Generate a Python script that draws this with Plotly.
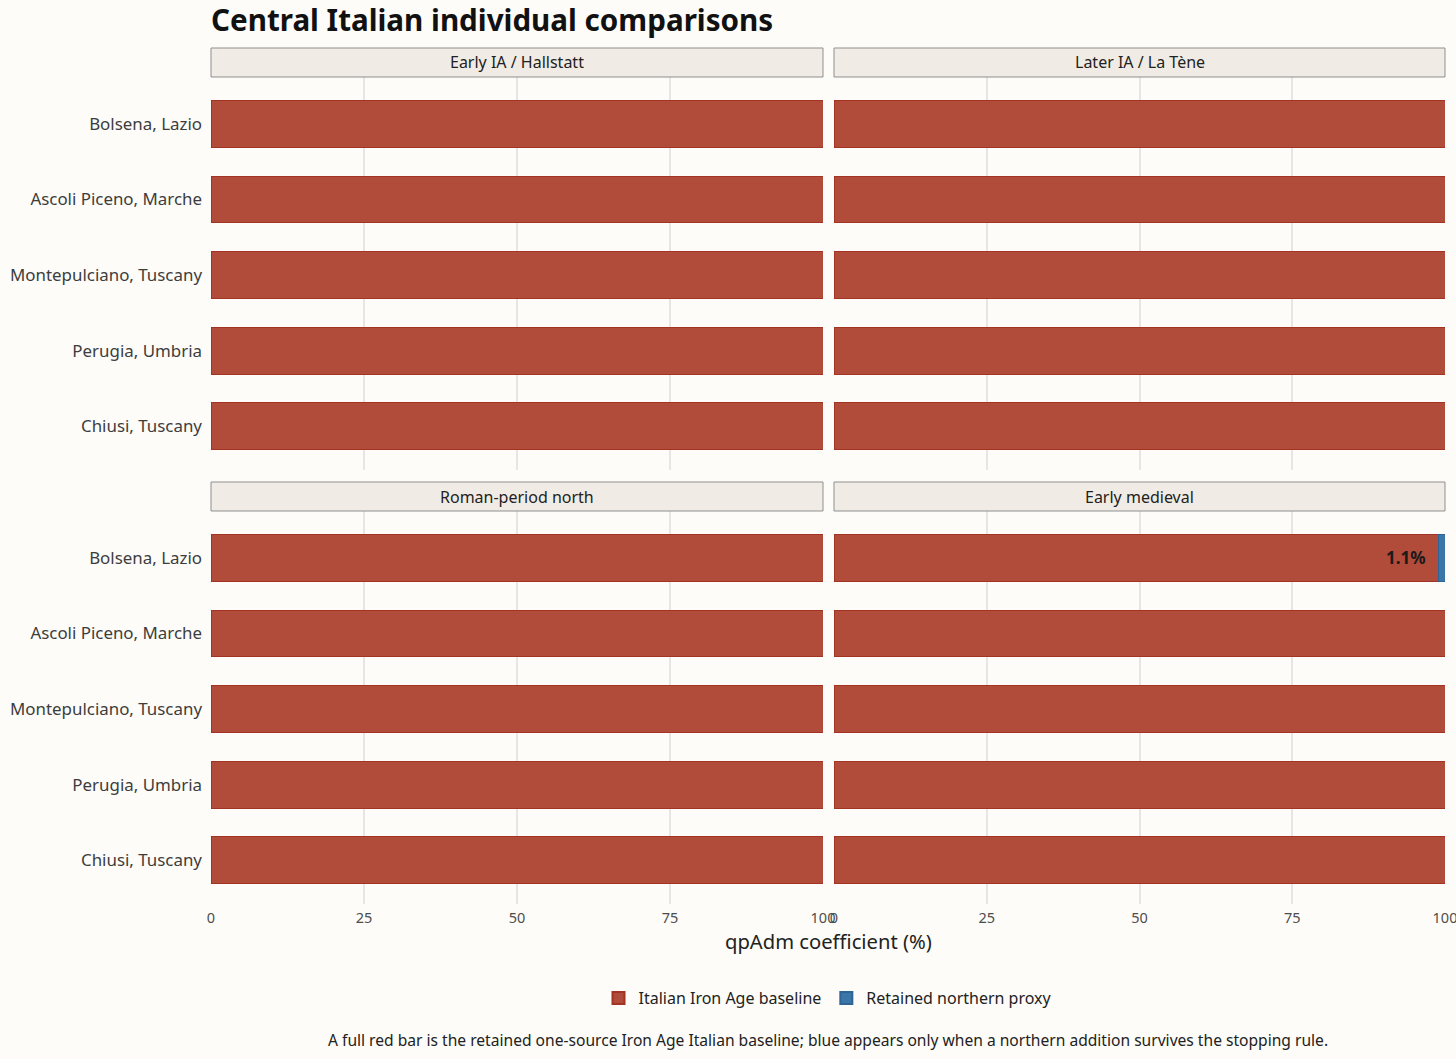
import plotly.graph_objects as go

# data
regions = ['Bolsena, Lazio', 'Ascoli Piceno, Marche', 'Montepulciano, Tuscany',
           'Perugia, Umbria', 'Chiusi, Tuscany']
periods = ['Early IA / Hallstatt', 'Later IA / La Tène', 'Roman-period north', 'Early medieval']
baseline = {
    'Early IA / Hallstatt': [100, 100, 100, 100, 100],
    'Later IA / La Tène': [100, 100, 100, 100, 100],
    'Roman-period north': [100, 100, 100, 100, 100],
    'Early medieval': [98.9, 100, 100, 100, 100],
}
northern = {
    'Early IA / Hallstatt': [0, 0, 0, 0, 0],
    'Later IA / La Tène': [0, 0, 0, 0, 0],
    'Roman-period north': [0, 0, 0, 0, 0],
    'Early medieval': [1.1, 0, 0, 0, 0],
}
x_ticks = [0, 25, 50, 75, 100]

W, H = 1456, 1059
RED = '#B14B3A'
BLUE = '#3A76A8'
BG = '#FDFCF8'
FONT = 'Noto Sans'


def px_x(p):
    return p / W


def px_y(p):
    return 1 - p / H


# panel domains (pixel positions)
x_doms = [(211, 823), (834, 1445)]
y_doms = [(77, 470), (511, 904)]

fig = go.Figure()
shown = set()

for i, period in enumerate(periods):
    row, col = divmod(i, 2)
    n = i + 1
    xa = 'x' if n == 1 else f'x{n}'
    ya = 'y' if n == 1 else f'y{n}'

    fig.add_trace(go.Bar(
        x=baseline[period], y=regions, orientation='h',
        name='Italian Iron Age baseline', legendgroup='base',
        showlegend='base' not in shown,
        marker=dict(color=RED, line=dict(color='#A33322', width=1)),
        width=0.62, xaxis=xa, yaxis=ya, hoverinfo='skip'))
    shown.add('base')

    vals = [v if v > 0 else None for v in northern[period]]
    fig.add_trace(go.Bar(
        x=vals, y=regions, orientation='h',
        name='Retained northern proxy', legendgroup='north',
        showlegend='north' not in shown,
        marker=dict(color=BLUE, line=dict(color='#2F6494', width=1)),
        width=0.62, xaxis=xa, yaxis=ya, hoverinfo='skip'))
    shown.add('north')

    # labels for retained northern proxy
    for r, b, v in zip(regions, baseline[period], northern[period]):
        if v > 0:
            fig.add_annotation(x=b, y=r, xref=xa, yref=ya, text=f'<b>{v:.1f}%</b>',
                               showarrow=False, xanchor='right', yanchor='middle', xshift=-10,
                               font=dict(family=FONT, size=17, color='#1a1a1a'))

    x0, x1 = x_doms[col]
    y0, y1 = y_doms[row]
    fig.update_layout({
        f'xaxis{"" if n == 1 else n}': dict(
            domain=[px_x(x0), px_x(x1)], range=[0, 100], anchor=ya,
            tickvals=x_ticks, showticklabels=(row == 1), ticks='',
            ticklabelstandoff=3, automargin=False, ticklabeloverflow='allow',
            showgrid=True, gridcolor='#E6E6E6', gridwidth=1.6, zeroline=False,
            tickfont=dict(family=FONT, size=14.5, color='#4d4d4d')),
        f'yaxis{"" if n == 1 else n}': dict(
            domain=[px_y(y1), px_y(y0)], anchor=xa, automargin=False,
            categoryorder='array', categoryarray=regions, range=[4.58, -0.62],
            showticklabels=(col == 0), ticks='', showgrid=False, zeroline=False,
            ticklabelstandoff=8,
            tickfont=dict(family=FONT, size=16.9, color='#3d3d3d')),
    })

    # facet strip
    sy0, sy1 = y0 - 29, y0
    fig.add_shape(type='rect', xref='paper', yref='paper',
                  x0=px_x(x0), x1=px_x(x1), y0=px_y(sy1), y1=px_y(sy0),
                  fillcolor='#F0ECE5', line=dict(color='#8f8f8f', width=1))
    fig.add_annotation(x=px_x((x0 + x1) / 2), y=px_y((sy0 + sy1) / 2),
                       xref='paper', yref='paper', text=period, showarrow=False,
                       xanchor='center', yanchor='middle',
                       font=dict(family=FONT, size=16, color='#222222'))

fig.add_annotation(x=px_x(828), y=px_y(941), xref='paper', yref='paper',
                   text='qpAdm coefficient (%)', showarrow=False,
                   xanchor='center', yanchor='middle',
                   font=dict(family=FONT, size=20.2, color='#222222'))
fig.add_annotation(x=px_x(828), y=px_y(1040), xref='paper', yref='paper',
                   text='A full red bar is the retained one-source Iron Age Italian baseline; '
                        'blue appears only when a northern addition survives the stopping rule.',
                   showarrow=False, xanchor='center', yanchor='middle',
                   font=dict(family=FONT, size=15.6, color='#222222'))

fig.update_layout(
    width=W, height=H, barmode='stack', bargap=0.38,
    paper_bgcolor=BG, plot_bgcolor=BG,
    margin=dict(l=0, r=0, t=0, b=0),
    font=dict(family=FONT),
    title=dict(text='<b>Central Italian individual comparisons</b>', x=px_x(211), xanchor='left',
               y=px_y(21), yanchor='middle', font=dict(family=FONT, size=29.6, color='#111111')),
    legend=dict(orientation='h', x=px_x(828), xanchor='center', y=px_y(998), yanchor='middle',
                traceorder='normal', font=dict(family=FONT, size=16, color='#222222'),
                bgcolor='rgba(0,0,0,0)', itemsizing='constant'),
)

page_fix = ("document.body.style.margin='0';"
            "document.body.style.overflow='hidden';"
            "document.documentElement.style.overflow='hidden';"
            "document.body.style.background='" + BG + "';")
fig.write_html('out.html', config={'displayModeBar': False}, post_script=page_fix)
